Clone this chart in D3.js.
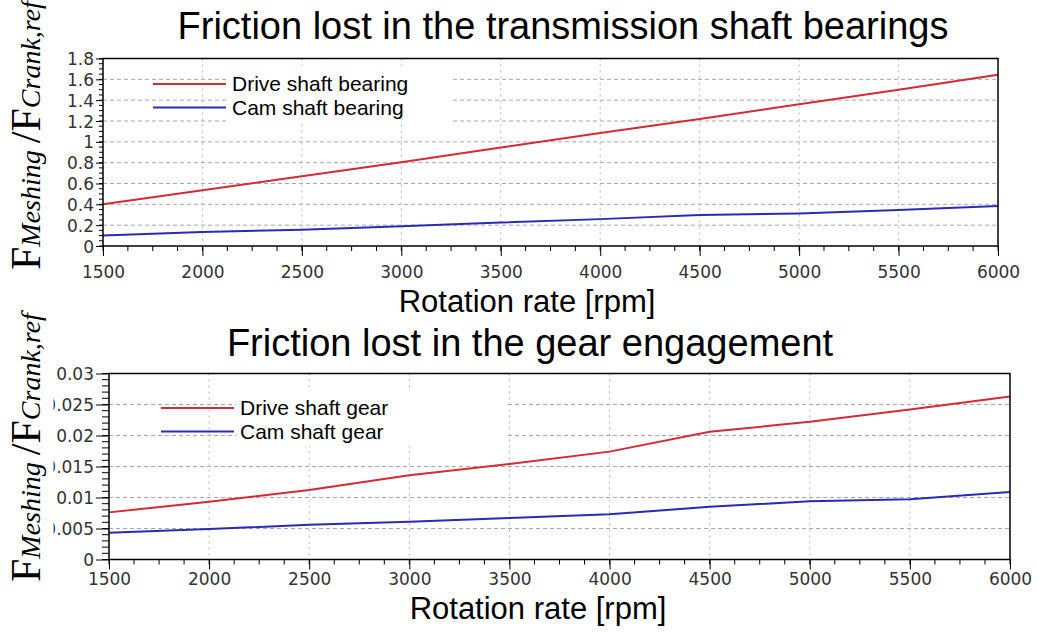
<!DOCTYPE html>
<html>
<head>
<meta charset="utf-8">
<script src="https://cdn.jsdelivr.net/npm/d3@7"></script>
<style>
  body { margin: 0; background: #fff; }
  svg { display: block; }
  .tick text { font-family: "DejaVu Sans", sans-serif; fill: #333; }
</style>
</head>
<body>
<svg id="chart" width="1039" height="635"></svg>
<script>
// data
const rpm = [1500, 2000, 2500, 3000, 3500, 4000, 4500, 5000, 5500, 6000];
const driveBearing = [0.40, 0.535, 0.67, 0.805, 0.945, 1.085, 1.22, 1.36, 1.50, 1.645];
const camBearing = [0.10, 0.135, 0.155, 0.19, 0.225, 0.258, 0.297, 0.313, 0.345, 0.385];
const driveGear = [0.0076, 0.0093, 0.0112, 0.0136, 0.0154, 0.0174, 0.0206, 0.0222, 0.0242, 0.0263];
const camGear = [0.0043, 0.0049, 0.0056, 0.0061, 0.0067, 0.0073, 0.0085, 0.0094, 0.0097, 0.0109];

const xTicks = [1500, 2000, 2500, 3000, 3500, 4000, 4500, 5000, 5500, 6000];
const bearingTicks = [0, 0.2, 0.4, 0.6, 0.8, 1, 1.2, 1.4, 1.6, 1.8];
const gearTicks = [0, 0.005, 0.01, 0.015, 0.02, 0.025, 0.03];

const RED = '#d42a36';
const BLUE = '#2a2ab4';

const svg = d3.select('#chart');

function drawPanel(p) {
    const x = d3.scaleLinear().domain([1500, 6000]).range([p.left, p.right]);
    const y = d3.scaleLinear().domain(p.yDomain).range([p.bottom, p.top]);
    const g = svg.append('g');

    // grid
    g.append('g').selectAll('line').data(p.yTicks.slice(1, -1)).join('line')
        .attr('x1', p.left).attr('x2', p.right)
        .attr('y1', d => y(d)).attr('y2', d => y(d))
        .attr('stroke', '#a8a8a8').attr('stroke-dasharray', '4,3');
    g.append('g').selectAll('line').data(xTicks.slice(1, -1)).join('line')
        .attr('x1', d => x(d)).attr('x2', d => x(d))
        .attr('y1', p.top).attr('y2', p.bottom)
        .attr('stroke', '#b4b4b4').attr('stroke-dasharray', '2,4');

    // legend background and lines
    g.append('rect')
        .attr('x', p.legX + 75).attr('y', p.legY - 18)
        .attr('width', p.legBoxW).attr('height', 56)
        .attr('fill', '#fff');
    const line = d3.line().x((d, i) => x(rpm[i])).y(d => y(d));
    p.series.forEach((s, i) => {
        g.append('path').datum(s.values)
            .attr('d', line)
            .attr('fill', 'none').attr('stroke', s.color).attr('stroke-width', 2);
        g.append('line')
            .attr('x1', p.legX).attr('x2', p.legX + 73)
            .attr('y1', p.legY + i * 23.5).attr('y2', p.legY + i * 23.5)
            .attr('stroke', s.color).attr('stroke-width', 2);
        g.append('text')
            .attr('x', p.legX + 79).attr('y', p.legY + i * 23.5 + 7)
            .attr('font-family', 'Liberation Sans, Arial, sans-serif')
            .attr('font-size', 21)
            .text(s.name);
    });

    // frame
    g.append('rect')
        .attr('x', p.left).attr('y', p.top)
        .attr('width', p.right - p.left).attr('height', p.bottom - p.top)
        .attr('fill', 'none').attr('stroke', '#000').attr('stroke-width', 1.5);

    // minor ticks
    const yMinor = d3.range(p.yDomain[0], p.yDomain[1] + 1e-9, p.yMinorStep);
    g.append('g').selectAll('line').data(yMinor).join('line')
        .attr('x1', p.left - p.minorLen).attr('x2', p.left)
        .attr('y1', d => y(d)).attr('y2', d => y(d))
        .attr('stroke', '#000');
    const xMinor = d3.range(1500, 6001, 125);
    g.append('g').selectAll('line').data(xMinor).join('line')
        .attr('x1', d => x(d)).attr('x2', d => x(d))
        .attr('y1', p.bottom).attr('y2', p.bottom + 5)
        .attr('stroke', '#000');

    // axes (y labels may be cut on the left like in the source image)
    const yWrap = g.append('g');
    if (p.clipX) {
        svg.append('clipPath').attr('id', 'clip' + p.id)
            .append('rect').attr('x', p.clipX).attr('y', 0).attr('width', 200).attr('height', 635);
        yWrap.attr('clip-path', `url(#clip${p.id})`);
    }
    const yAxis = d3.axisLeft(y).tickValues(p.yTicks).tickFormat(d => d3.format('~g')(d))
        .tickSize(p.majorLen).tickPadding(2);
    const ya = yWrap.append('g').attr('transform', `translate(${p.left},0)`).call(yAxis);
    ya.select('.domain').remove();
    ya.selectAll('text').attr('font-size', 17).attr('dy', '0.36em');

    const xAxis = d3.axisBottom(x).tickValues(xTicks).tickFormat(d3.format('d'))
        .tickSize(10).tickPadding(p.xPad);
    const xa = g.append('g').attr('transform', `translate(0,${p.bottom})`).call(xAxis);
    xa.select('.domain').remove();
    xa.selectAll('text').attr('font-size', 17);
    g.selectAll('.tick line').attr('stroke', '#000');

    // titles
    g.append('text')
        .attr('x', p.titleX).attr('y', p.titleY)
        .attr('text-anchor', 'middle')
        .attr('font-family', 'Liberation Sans, Arial, sans-serif')
        .attr('font-size', 38)
        .text(p.title);
    g.append('text')
        .attr('x', p.xLabelX).attr('y', p.xLabelY)
        .attr('text-anchor', 'middle')
        .attr('font-family', 'Liberation Sans, Arial, sans-serif')
        .attr('font-size', 31)
        .text('Rotation rate [rpm]');

    // y label F_Meshing / F_Crank,ref
    const yl = g.append('text')
        .attr('transform', `translate(40,${p.yLabelY}) rotate(-90)`)
        .attr('font-family', 'Liberation Serif, Times New Roman, serif')
        .attr('font-size', 42);
    yl.append('tspan').text('F');
    yl.append('tspan').attr('font-size', 28).attr('font-style', 'italic').text('Meshing ');
    yl.append('tspan').text('/F');
    yl.append('tspan').attr('font-size', 28).attr('font-style', 'italic').text('Crank,ref');
}

drawPanel({
    id: 1,
    left: 103, right: 998, top: 58.5, bottom: 246,
    yDomain: [0, 1.8], yTicks: bearingTicks, yMinorStep: 0.05,
    majorLen: 7, minorLen: 4, xPad: 10,
    legX: 153, legY: 84, legBoxW: 225,
    series: [
        { name: 'Drive shaft bearing', values: driveBearing, color: RED },
        { name: 'Cam shaft bearing', values: camBearing, color: BLUE }
    ],
    title: 'Friction lost in the transmission shaft bearings',
    titleX: 563, titleY: 39, xLabelX: 527, xLabelY: 312, yLabelY: 270
});

drawPanel({
    id: 2,
    left: 109, right: 1010, top: 373.5, bottom: 559.5,
    yDomain: [0, 0.03], yTicks: gearTicks, yMinorStep: 0.001,
    majorLen: 13, minorLen: 7, xPad: 3, clipX: 53.5,
    legX: 161, legY: 408, legBoxW: 272,
    series: [
        { name: 'Drive shaft gear', values: driveGear, color: RED },
        { name: 'Cam shaft gear', values: camGear, color: BLUE }
    ],
    title: 'Friction lost in the gear engagement',
    titleX: 530, titleY: 356, xLabelX: 538, xLabelY: 619, yLabelY: 582
});
</script>
</body>
</html>
